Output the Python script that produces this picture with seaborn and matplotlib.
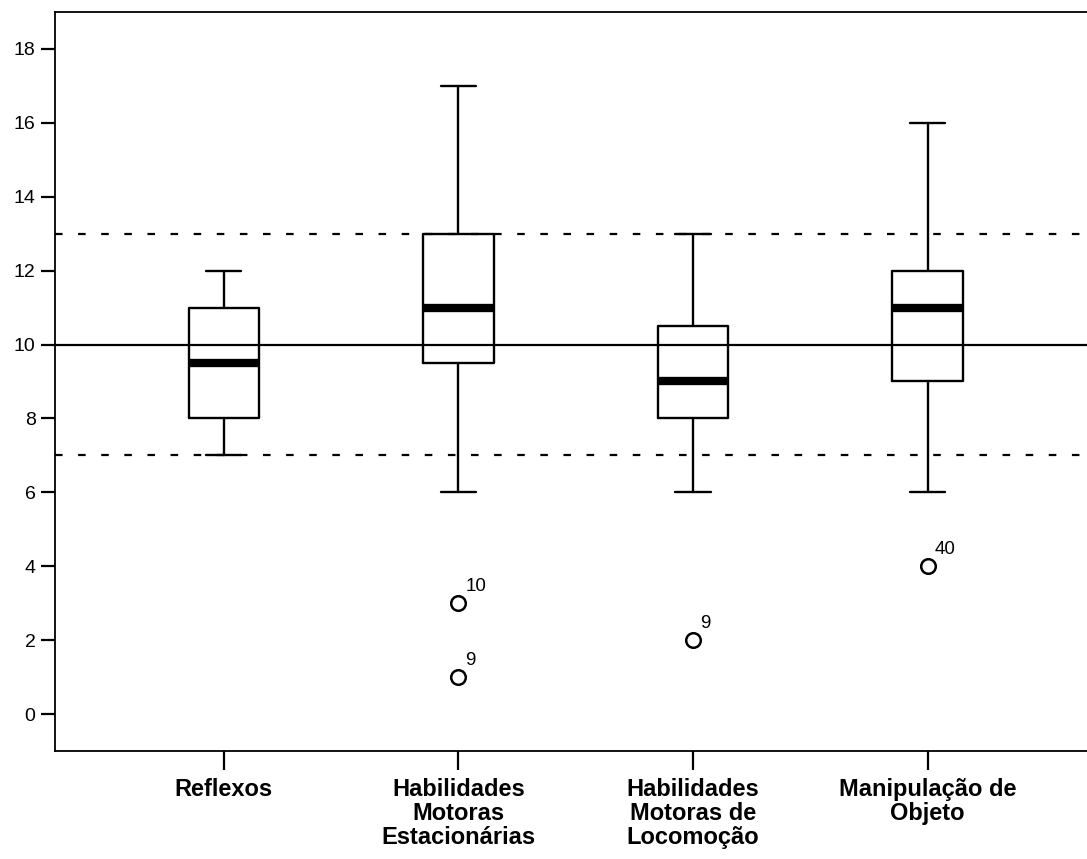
import matplotlib.pyplot as plt
import seaborn as sns

# summary values (SPSS style boxplot)
categories = ["Reflexos", "Habilidades\nMotoras\nEstacionárias",
              "Habilidades\nMotoras de\nLocomoção", "Manipulação de\nObjeto"]
whisker_low = [7, 6, 6, 6]
q1 = [8, 9.5, 8, 9]
median = [9.5, 11, 9, 11]
q3 = [11, 13, 10.5, 12]
whisker_high = [12, 17, 13, 16]
outliers = [[], [3, 1], [2], [4]]
outlier_ids = [[], ["10", "9"], ["9"], ["40"]]
ref_mean = 10
ref_band = [7, 13]
y_ticks = [0, 2, 4, 6, 8, 10, 12, 14, 16, 18]

sns.set_style("ticks")
plt.rcParams["font.family"] = ["Liberation Sans", "DejaVu Sans"]
plt.rcParams["text.color"] = "black"
plt.rcParams["xtick.color"] = "black"
plt.rcParams["ytick.color"] = "black"

fig = plt.figure(figsize=(10.87, 8.59), dpi=100)
ax = fig.add_axes([55 / 1087, 1 - 751 / 859, 1 - 55 / 1087, (751 - 12) / 859])

stats = []
for i in range(len(categories)):
    stats.append(dict(med=median[i], q1=q1[i], q3=q3[i],
                      whislo=whisker_low[i], whishi=whisker_high[i],
                      fliers=outliers[i]))

# reference lines
ax.axhline(ref_mean, color="black", lw=1.6, zorder=1)
for v in ref_band:
    ax.axhline(v, color="black", lw=1.6, ls=(0, (3.4, 7.0)), zorder=1)

line = dict(color="black", linewidth=1.7)
ax.bxp(stats, positions=range(len(categories)), widths=0.30, capwidths=0.15,
       boxprops=line, whiskerprops=line, capprops=line,
       medianprops=dict(color="black", linewidth=6, solid_capstyle="butt"),
       flierprops=dict(marker="o", markerfacecolor="white", markeredgecolor="black",
                       markersize=10.5, markeredgewidth=1.8),
       manage_ticks=False, zorder=3)

for i in range(len(categories)):
    for v, lab in zip(outliers[i], outlier_ids[i]):
        ax.annotate(lab, (i, v), xytext=(5, 6), textcoords="offset points",
                    ha="left", va="bottom", fontsize=13.5, color="black")

ax.set_xlim(-0.72, 3.68)
ax.set_ylim(-1, 19)
ax.set_yticks(y_ticks)
ax.set_xticks(range(len(categories)))
ax.set_xticklabels(categories, fontsize=17, fontweight="bold", linespacing=1.05,
                   color="black")
ax.tick_params(axis="y", length=10, width=1.6, labelsize=14, pad=4,
               color="black", labelcolor="black")
ax.tick_params(axis="x", length=13.5, width=1.6, pad=6, color="black")
ax.spines["right"].set_visible(False)
for s in ["left", "top", "bottom"]:
    ax.spines[s].set_linewidth(1.3)
    ax.spines[s].set_color("black")

fig.savefig("out.png", dpi=100)
